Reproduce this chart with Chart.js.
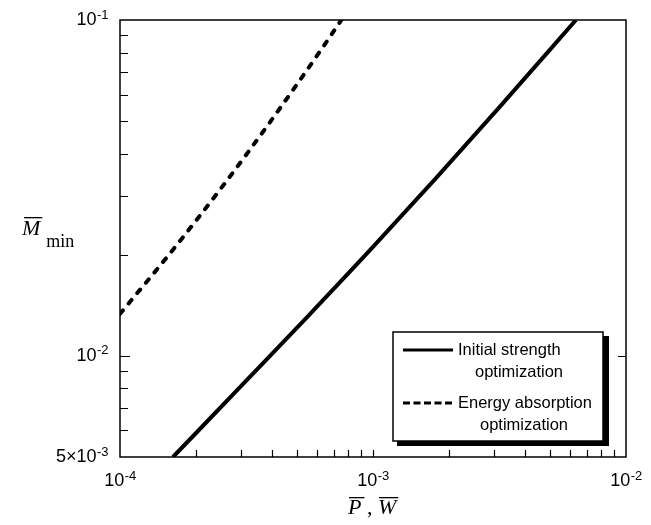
<!DOCTYPE html>
<html>
<head>
<meta charset="utf-8">
<script src="https://cdn.jsdelivr.net/npm/chart.js@4.4.1/dist/chart.umd.min.js"></script>
<style>
  html, body { margin: 0; padding: 0; background: #fff; }
</style>
</head>
<body>
<canvas id="graph" width="651" height="525"></canvas>
<script>
//------------ data ------------//

// Initial strength optimization (solid)
var strength_x = [1.62e-4, 3.162e-4, 5.623e-4, 1.0e-3, 1.778e-3, 3.162e-3, 6.34e-3];
var strength_y = [5.0e-3, 8.45e-3, 1.33e-2, 2.11e-2, 3.39e-2, 5.50e-2, 1.0e-1];

// Energy absorption optimization (dashed)
var energy_x = [1.0e-4, 1.585e-4, 2.512e-4, 3.981e-4, 6.31e-4, 7.5e-4];
var energy_y = [1.334e-2, 2.03e-2, 3.16e-2, 5.05e-2, 8.26e-2, 1.0e-1];

// axis tick labels [value, mantissa, exponent]
var x_labels = [[1e-4, "10", "-4"], [1e-3, "10", "-3"], [1e-2, "10", "-2"]];
var y_labels = [[1e-1, "10", "-1"], [1e-2, "10", "-2"], [5e-3, "5\u00d710", "-3"]];

var x_minor = [2e-4, 3e-4, 4e-4, 5e-4, 6e-4, 7e-4, 8e-4, 9e-4, 1e-3, 2e-3, 3e-3, 4e-3, 5e-3, 6e-3, 7e-3, 8e-3, 9e-3];
var y_minor = [6e-3, 7e-3, 8e-3, 9e-3, 2e-2, 3e-2, 4e-2, 5e-2, 6e-2, 7e-2, 8e-2, 9e-2];

var legend_items = [
  { lines: ["Initial strength", "optimization"], indent: 17 },
  { lines: ["Energy absorption", "optimization"], indent: 22 }
];

function toPoints(xs, ys) {
  var pts = [];
  for (var i = 0; i < xs.length; i++) pts.push({ x: xs[i], y: ys[i] });
  return pts;
}

var SANS = "'Liberation Sans', Arial, sans-serif";
var SERIF = "'Liberation Serif', 'Times New Roman', serif";

// draws "10^-3" style labels
function drawPow(ctx, mant, exp, x, y, align) {
  ctx.font = "18px " + SANS;
  var w1 = ctx.measureText(mant).width;
  ctx.font = "13px " + SANS;
  var w2 = ctx.measureText(exp).width;
  var start = align === "right" ? x - w1 - w2 : x - (w1 + w2) / 2;
  ctx.textAlign = "left";
  ctx.textBaseline = "middle";
  ctx.font = "18px " + SANS;
  ctx.fillText(mant, start, y);
  ctx.font = "13px " + SANS;
  ctx.fillText(exp, start + w1 + 0.5, y - 5);
}

function overText(ctx, txt, x, y, font) {
  ctx.font = font;
  ctx.textAlign = "left";
  ctx.textBaseline = "alphabetic";
  ctx.fillText(txt, x, y);
  return ctx.measureText(txt).width;
}

var decorations = {
  id: "decorations",
  afterDraw: function (chart) {
    var ctx = chart.ctx;
    var a = chart.chartArea;
    var sx = chart.scales.x, sy = chart.scales.y;
    ctx.save();
    ctx.fillStyle = "#000";
    ctx.strokeStyle = "#000";

    // frame
    ctx.lineWidth = 1.5;
    ctx.strokeRect(a.left, a.top, a.right - a.left, a.bottom - a.top);

    // ticks
    ctx.lineWidth = 1.2;
    ctx.beginPath();
    x_minor.forEach(function (v) {
      var px = Math.round(sx.getPixelForValue(v)) + 0.5;
      ctx.moveTo(px, a.bottom);
      ctx.lineTo(px, a.bottom - 7);
    });
    y_minor.forEach(function (v) {
      var py = Math.round(sy.getPixelForValue(v)) + 0.5;
      ctx.moveTo(a.left, py);
      ctx.lineTo(a.left + 8, py);
    });
    var p10 = Math.round(sy.getPixelForValue(1e-2)) + 0.5;
    ctx.moveTo(a.left, p10);
    ctx.lineTo(a.left + 10, p10);
    ctx.moveTo(a.right, p10);
    ctx.lineTo(a.right - 8, p10);
    ctx.stroke();

    // tick labels
    x_labels.forEach(function (t) {
      drawPow(ctx, t[1], t[2], sx.getPixelForValue(t[0]), a.bottom + 24, "center");
    });
    y_labels.forEach(function (t) {
      drawPow(ctx, t[1], t[2], a.left - 12, sy.getPixelForValue(t[0]), "right");
    });

    // x title: P-bar , W-bar
    var f = "italic 22px " + SERIF;
    var tx = 348, ty = 514;
    var wP = overText(ctx, "P", tx, ty, f);
    ctx.fillRect(tx + 1, ty - 17, wP + 2, 1.3);
    ctx.font = "22px " + SERIF;
    ctx.fillText(" , ", tx + wP, ty);
    var wc = ctx.measureText(" , ").width;
    var wx = tx + wP + wc;
    var wW = overText(ctx, "W", wx, ty, f);
    ctx.fillRect(wx + 1, ty - 17, wW + 1, 1.3);

    // y title: M-bar min
    var mx = 22, my = 235;
    var wM = overText(ctx, "M", mx, my, f);
    ctx.fillRect(mx + 2, my - 18, wM, 1.3);
    ctx.font = "18px " + SERIF;
    ctx.fillText("min", mx + wM + 6, my + 12);

    // legend box with shadow
    var lx = 393, ly = 332, lw = 210, lh = 109;
    ctx.fillRect(lx + lw, ly + 4, 6, lh);
    ctx.fillRect(lx + 4, ly + lh, lw + 2, 5);
    ctx.fillStyle = "#fff";
    ctx.fillRect(lx, ly, lw, lh);
    ctx.fillStyle = "#000";
    ctx.lineWidth = 1.5;
    ctx.strokeRect(lx, ly, lw, lh);

    var rows = [350, 403];
    chart.data.datasets.forEach(function (ds, i) {
      var yy = rows[i];
      ctx.lineWidth = 3;
      ctx.lineCap = "butt";
      ctx.setLineDash(ds.borderDash && ds.borderDash.length ? [7, 3.5] : []);
      ctx.beginPath();
      ctx.moveTo(lx + 10, yy);
      ctx.lineTo(lx + 60, yy);
      ctx.stroke();
      ctx.setLineDash([]);
      ctx.font = "16.5px " + SANS;
      ctx.textAlign = "left";
      ctx.textBaseline = "middle";
      var it = legend_items[i];
      ctx.fillText(it.lines[0], lx + 65, yy);
      ctx.fillText(it.lines[1], lx + 65 + it.indent, yy + 22);
    });

    ctx.restore();
  }
};

var ctx = document.getElementById("graph");
var myChart = new Chart(ctx, {
  type: "line",
  data: {
    datasets: [
      {
        label: "Initial strength optimization",
        data: toPoints(strength_x, strength_y),
        borderColor: "#000",
        borderWidth: 4,
        pointRadius: 0,
        cubicInterpolationMode: "monotone",
        fill: false,
        clip: 0
      },
      {
        label: "Energy absorption optimization",
        data: toPoints(energy_x, energy_y),
        borderColor: "#000",
        borderWidth: 4,
        borderDash: [4.5, 9],
        borderCapStyle: "round",
        pointRadius: 0,
        cubicInterpolationMode: "monotone",
        fill: false,
        clip: 0
      }
    ]
  },
  options: {
    responsive: false,
    animation: false,
    devicePixelRatio: 1,
    layout: { padding: { left: 120, right: 25, top: 20, bottom: 68 } },
    plugins: { legend: { display: false }, tooltip: { enabled: false } },
    scales: {
      x: { type: "logarithmic", min: 1e-4, max: 1e-2, display: false },
      y: { type: "logarithmic", min: 5e-3, max: 1e-1, display: false }
    }
  },
  plugins: [decorations]
});
</script>
</body>
</html>
